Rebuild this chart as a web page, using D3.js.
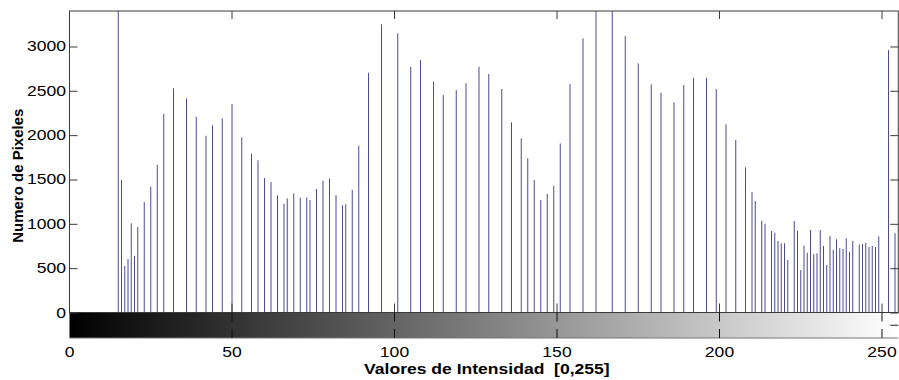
<!DOCTYPE html>
<html><head><meta charset="utf-8">
<script src="https://cdn.jsdelivr.net/npm/d3@7"></script>
<style>body{margin:0;background:#fff}svg{display:block}text{white-space:pre}</style>
</head><body>
<svg id="c" width="899" height="380"></svg>
<script>
// Histogram data: intensity level and pixel count
const intensities = [15,16,17,18,19,20,21,23,25,27,29,32,36,39,42,44,47,50,53,56,58,60,62,64,66,67,69,71,73,74,76,78,80,82,84,85,87,89,92,96,101,105,108,112,115,119,122,126,129,133,136,139,141,143,145,147,149,151,154,158,162,167,171,175,179,182,186,189,192,196,199,202,205,208,210,211,213,214,216,217,218,219,220,221,223,224,225,226,227,228,229,230,231,232,233,234,235,236,237,238,239,240,241,243,244,245,246,247,248,249,252,254];
const counts = [3800,1494,524,603,1006,640,964,1246,1418,1666,2238,2528,2415,2207,1993,2110,2189,2351,1975,1790,1716,1516,1471,1321,1227,1287,1344,1294,1299,1268,1392,1486,1513,1325,1209,1220,1384,1880,2703,3249,3148,2771,2847,2602,2452,2508,2584,2771,2689,2520,2144,1964,1738,1494,1268,1336,1426,1907,2576,3091,3700,3700,3117,2809,2573,2478,2370,2565,2647,2647,2520,2122,1945,1637,1359,1257,1035,1001,919,900,806,780,780,592,1032,922,479,755,674,930,660,667,930,750,535,862,705,825,724,716,837,685,809,767,772,784,738,750,738,859,2959,893];
const xTicks = [0,50,100,150,200,250];
const yTicks = [0,500,1000,1500,2000,2500,3000];
const xLabel = "Valores de Intensidad  [0,255]";
const yLabel = "Numero de Pixeles";

const svg = d3.select("#c");
const L = 69.5, R = 898.25, T = 11, B = 312.5, CB = 338;
const SX = 1.17; // horizontal stretch of text seen in the reference
const x = d3.scaleLinear().domain([0,255]).range([L,R]);
const y = d3.scaleLinear().domain([0,3400]).range([B,T]);
const font = "'Liberation Sans', Arial, sans-serif";

svg.append("defs").append("clipPath").attr("id","clip")
  .append("rect").attr("x",L).attr("y",T).attr("width",R-L).attr("height",B-T);

// colorbar gradient
const grad = svg.select("defs").append("linearGradient").attr("id","gray")
  .attr("x1","0%").attr("x2","100%").attr("y1","0%").attr("y2","0%");
grad.append("stop").attr("offset","0%").attr("stop-color","#000");
grad.append("stop").attr("offset","100%").attr("stop-color","#fff");
svg.append("rect").attr("x",L).attr("y",B).attr("width",R-L).attr("height",CB-B)
  .attr("fill","url(#gray)");

// stems
svg.append("g").attr("clip-path","url(#clip)")
  .selectAll("line").data(intensities).join("line")
  .attr("x1",(d)=>x(d)).attr("x2",(d)=>x(d))
  .attr("y1",y(0)).attr("y2",(d,i)=>y(counts[i]))
  .attr("stroke","#4a4a96").attr("stroke-width",1);

// axes box
const axisColor = "#3a3a3a";
svg.append("rect").attr("x",L).attr("y",T).attr("width",R-L).attr("height",B-T)
  .attr("fill","none").attr("stroke",axisColor).attr("stroke-width",1);
svg.append("line").attr("x1",L).attr("x2",R).attr("y1",CB).attr("y2",CB)
  .attr("stroke","#777").attr("stroke-width",1);

// y axis (left, inner ticks) and right ticks
const yAxisL = d3.axisLeft(y).tickValues(yTicks).tickSize(-8).tickFormat("");
const gy = svg.append("g").attr("transform",`translate(${L},0)`).call(yAxisL);
gy.select(".domain").remove();
gy.selectAll("line").attr("stroke",axisColor);
svg.append("g").selectAll("text").data(yTicks).join("text")
  .attr("transform",d=>`translate(66,${y(d)+5}) scale(${SX},1)`)
  .attr("text-anchor","end").attr("font-family",font).attr("font-size",15).text(d=>d);
const yAxisR = d3.axisRight(y).tickValues(yTicks).tickSize(-8).tickFormat("");
const gyr = svg.append("g").attr("transform",`translate(${R},0)`).call(yAxisR);
gyr.select(".domain").remove();
gyr.selectAll("line").attr("stroke",axisColor);

// top ticks and bottom inner ticks of main axes
const xt = xTicks.filter(d=>d>0);
svg.append("g").selectAll("line").data(xt).join("line")
  .attr("x1",d=>x(d)).attr("x2",d=>x(d)).attr("y1",T).attr("y2",T+8).attr("stroke",axisColor);
svg.append("g").selectAll("line").data(xt).join("line")
  .attr("x1",d=>x(d)).attr("x2",d=>x(d)).attr("y1",B).attr("y2",B-9).attr("stroke",axisColor);
// colorbar ticks (top and bottom)
svg.append("g").selectAll("line").data(xt).join("line")
  .attr("x1",d=>x(d)).attr("x2",d=>x(d)).attr("y1",B).attr("y2",B+9).attr("stroke","#111");
svg.append("g").selectAll("line").data(xt).join("line")
  .attr("x1",d=>x(d)).attr("x2",d=>x(d)).attr("y1",CB).attr("y2",CB-9).attr("stroke","#111");
svg.append("line").attr("x1",R-8).attr("x2",R).attr("y1",(B+CB)/2).attr("y2",(B+CB)/2).attr("stroke","#222");

// x tick labels
svg.append("g").selectAll("text").data(xTicks).join("text")
  .attr("transform",d=>`translate(${x(d)},${CB+19}) scale(${SX},1)`).attr("text-anchor","middle")
  .attr("font-family",font).attr("font-size",15).text(d=>d);

// axis titles
svg.append("text").attr("transform",`translate(${(L+R)/2+3},374) scale(${SX},1)`).attr("text-anchor","middle")
  .attr("font-family",font).attr("font-size",15).attr("font-weight","bold").text(xLabel);
svg.append("text").attr("transform",`translate(23,${(T+B)/2+14}) rotate(-90)`).attr("text-anchor","middle")
  .attr("font-family",font).attr("font-size",15).attr("font-weight","bold").text(yLabel);
</script>
</body></html>
